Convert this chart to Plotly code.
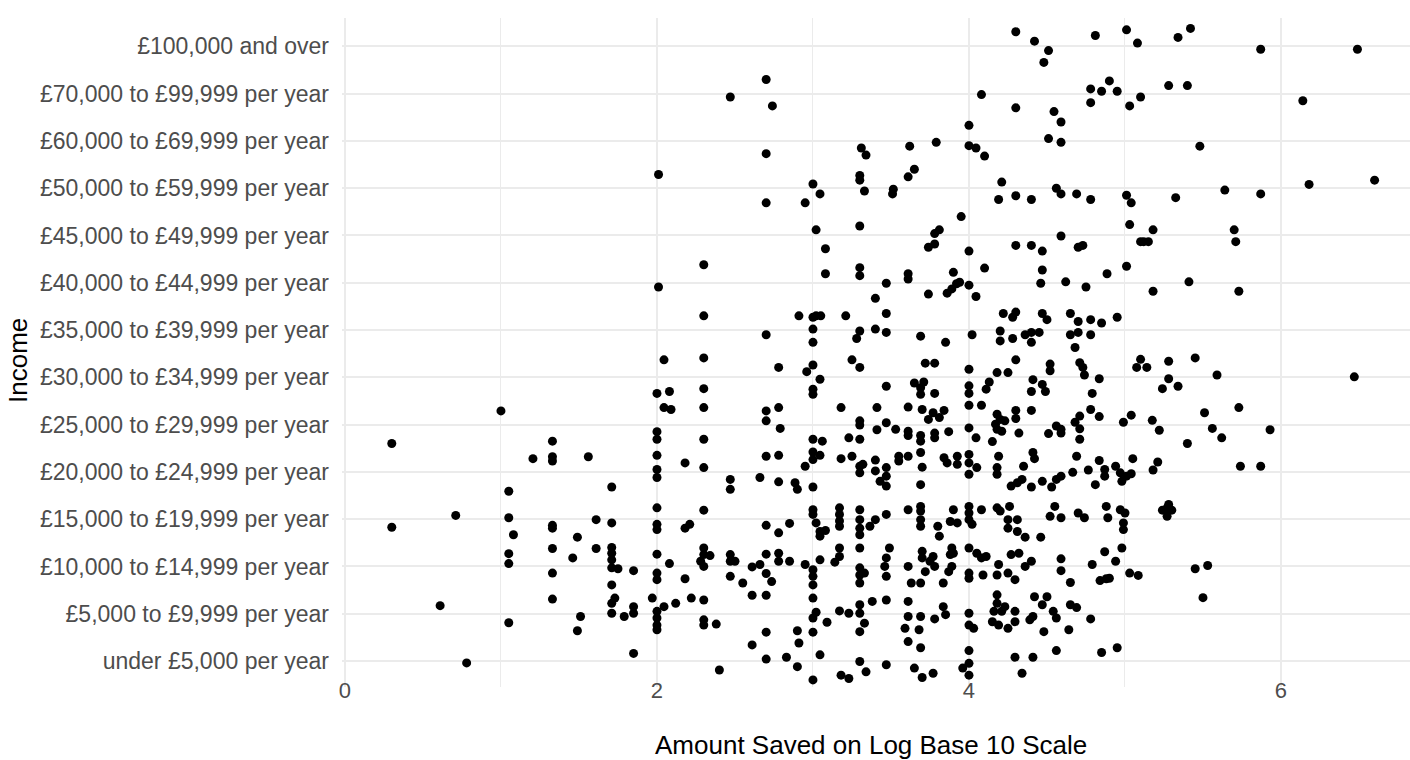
import plotly.graph_objects as go

income_levels = [
    "under £5,000 per year", "£5,000 to £9,999 per year", "£10,000 to £14,999 per year",
    "£15,000 to £19,999 per year", "£20,000 to £24,999 per year", "£25,000 to £29,999 per year",
    "£30,000 to £34,999 per year", "£35,000 to £39,999 per year", "£40,000 to £44,999 per year",
    "£45,000 to £49,999 per year", "£50,000 to £59,999 per year", "£60,000 to £69,999 per year",
    "£70,000 to £99,999 per year", "£100,000 and over",
]
x_ticks = [0, 2, 4, 6]

# log10 of amount saved
amount_log10 = [
    2.70, 2.47, 2.74, 2.70, 3.31, 3.34, 2.01, 3.30, 3.30, 3.00,
    3.045, 3.33, 2.70, 2.95, 3.02, 3.30, 3.08, 2.30, 3.08, 3.30,
    3.30, 2.01, 2.30, 2.91, 3.00, 3.02, 3.05, 3.21, 2.70, 3.00,
    3.00, 3.30, 3.28, 4.30, 4.42, 4.51, 4.48, 4.81, 5.01, 4.78,
    4.85, 4.90, 4.95, 4.78, 5.03, 4.08, 4.30, 4.545, 4.59, 4.00,
    4.51, 4.59, 3.62, 3.79, 4.00, 4.045, 4.10, 3.65, 3.61, 3.515,
    3.51, 4.21, 4.19, 4.30, 4.40, 4.56, 4.59, 4.69, 4.78, 5.01,
    3.95, 3.81, 3.78, 3.78, 3.74, 4.00, 4.30, 4.40, 4.47, 4.59,
    4.70, 4.73, 5.03, 3.61, 3.61, 3.47, 3.40, 3.74, 3.90, 3.86,
    3.89, 3.92, 3.94, 4.00, 4.045, 4.10, 4.47, 4.46, 4.62, 4.75,
    4.885, 5.01, 3.47, 4.22, 4.28, 4.30, 4.47, 4.50, 4.65, 4.70,
    4.78, 4.85, 4.95, 3.40, 3.47, 3.69, 3.85, 4.02, 4.20, 4.20,
    4.28, 4.36, 4.40, 4.40, 4.45, 4.65, 4.70, 4.78, 4.68, 5.08,
    5.34, 5.42, 5.87, 6.49, 5.28, 5.40, 5.10, 6.14, 5.48, 5.04,
    5.325, 5.64, 5.87, 6.18, 6.60, 5.18, 5.70, 5.10, 5.12, 5.15,
    5.71, 5.41, 5.18, 5.73, 1.00, 0.30, 1.33, 1.205, 1.33, 1.33,
    1.56, 1.05, 0.71, 0.30, 1.05, 1.08, 1.33, 1.33, 1.61, 1.49,
    1.33, 1.61, 1.46, 1.05, 1.05, 1.33, 1.33, 0.61, 1.51, 1.49,
    1.05, 0.78, 1.71, 1.71, 1.71, 1.71, 1.71, 1.71, 1.75, 1.85,
    1.71, 1.73, 1.71, 1.71, 1.79, 1.85, 1.85, 1.85, 2.045, 2.30,
    2.78, 3.00, 2.96, 3.045, 3.25, 3.30, 2.00, 2.08, 2.045, 2.09,
    2.30, 2.30, 3.00, 3.00, 3.47, 2.70, 2.70, 2.78, 2.79, 3.18,
    3.41, 3.30, 3.30, 3.41, 3.47, 2.00, 2.00, 2.30, 2.00, 2.18,
    2.00, 2.00, 2.30, 2.47, 2.47, 2.66, 2.78, 2.885, 2.90, 3.00,
    3.06, 2.70, 2.78, 3.00, 3.00, 3.045, 2.95, 3.00, 3.18, 3.25,
    3.23, 3.30, 3.30, 3.30, 3.32, 3.40, 3.40, 3.43, 3.47, 3.47,
    3.47, 2.00, 2.30, 3.00, 3.00, 3.17, 3.17, 3.17, 3.17, 3.30,
    3.30, 3.30, 3.30, 3.40, 3.365, 3.47, 2.00, 2.00, 2.18, 2.21,
    2.70, 2.78, 2.85, 3.02, 3.045, 3.08, 3.045, 2.00, 2.08, 2.30,
    2.30, 2.34, 2.28, 2.30, 2.47, 2.47, 2.50, 2.61, 2.66, 2.70,
    2.78, 2.78, 2.85, 2.95, 3.00, 3.00, 3.00, 3.045, 3.17, 3.17,
    3.14, 3.30, 3.30, 3.30, 3.33, 3.30, 3.47, 3.47, 2.00, 2.00,
    2.18, 2.47, 2.55, 2.70, 2.735, 1.97, 2.045, 2.00, 2.00, 2.00,
    2.00, 2.12, 2.22, 2.30, 2.30, 2.30, 2.38, 2.61, 2.70, 3.00,
    3.02, 3.00, 3.09, 3.17, 3.23, 3.30, 3.30, 3.38, 3.47, 3.33,
    3.30, 2.70, 2.90, 3.00, 2.91, 2.61, 2.70, 2.83, 2.90, 3.045,
    2.40, 3.00, 3.18, 3.23, 3.30, 3.34, 3.47,
    3.72, 3.78, 4.00, 4.30, 4.18, 4.25, 4.52, 4.52, 4.71, 4.73,
    4.74, 3.65, 3.69, 3.71, 3.69, 3.78, 4.00, 4.00, 4.11, 4.13,
    4.41, 4.40, 4.47, 4.49, 4.835, 4.79, 3.61, 3.70, 3.77, 3.74,
    3.81, 3.84, 4.00, 4.08, 4.18, 4.17, 4.20, 4.23, 4.30, 4.30,
    4.18, 4.21, 4.40, 4.78, 4.71, 4.68, 4.71, 4.835, 4.99, 3.53,
    3.61, 3.61, 3.69, 3.69, 3.78, 3.78, 3.87, 4.00, 4.045, 4.15,
    4.32, 4.51, 4.56, 4.59, 4.59, 4.71, 3.55, 3.61, 3.55, 3.69,
    3.70, 3.69, 3.84, 3.86, 3.925, 3.925, 4.00, 4.00, 4.00, 4.05,
    4.19, 4.18, 4.18, 4.35, 4.41, 4.42, 4.27, 4.31, 4.34, 4.40,
    4.47, 4.53, 4.56, 4.59, 4.665, 4.69, 4.765, 4.835, 4.87, 4.87,
    4.81, 4.94, 4.97, 4.98, 5.01, 3.49, 3.46, 3.61, 3.69, 3.69,
    3.69, 3.69, 3.90, 4.00, 4.00, 4.00, 4.02, 4.08, 4.18, 4.20,
    4.26, 4.55, 4.52, 4.59, 4.70, 4.74, 4.88, 4.89, 4.97, 5.00,
    4.99, 4.99, 3.80, 3.81, 3.88, 3.925, 4.25, 4.31, 4.25, 4.31,
    4.36, 4.46, 3.61, 3.70, 3.70, 3.72, 3.77, 3.78, 3.75, 3.89,
    3.88, 3.90, 3.89, 3.87, 3.63, 3.69, 3.835, 4.00, 4.05, 4.08,
    4.11, 4.00, 4.00, 4.09, 4.19, 4.18, 4.25, 4.295, 4.27, 4.32,
    4.40, 4.36, 4.59, 4.59, 4.65, 4.79, 4.87, 4.94, 4.98, 4.84,
    4.88, 4.90, 5.03, 3.61, 3.61, 3.69, 3.78, 3.835, 3.85, 3.59,
    3.68, 3.61, 3.69, 4.00, 4.00, 4.03, 4.18, 4.18, 4.16, 4.21,
    4.23, 4.15, 4.19, 4.25, 4.295, 4.295, 4.42, 4.50, 4.47, 4.41,
    4.39, 4.54, 4.56, 4.48, 4.65, 4.69, 4.64, 4.78, 4.00, 4.00,
    3.96, 4.00, 4.295, 4.41, 4.56, 4.34, 3.65, 3.70, 3.77, 4.85,
    4.95, 5.10, 5.075, 5.14, 5.28, 5.45, 5.28, 5.24, 5.34, 5.59,
    6.47, 5.04, 5.175, 5.22, 5.51, 5.56, 5.62, 5.73, 5.93, 5.40,
    5.05, 5.04, 5.21, 5.18, 5.74, 5.87, 5.24, 5.28, 5.30, 5.27,
    5.27, 5.085, 5.45, 5.53, 5.50,
]

# income level position (1 = lowest band) including the vertical jitter seen in the picture
income_jittered = [
    13.30, 12.93, 12.74, 11.73, 11.85, 11.70, 11.29, 11.27, 11.17, 11.09,
    10.88, 10.94, 10.69, 10.69, 10.12, 10.20, 9.72, 9.38, 9.19, 9.32,
    9.15, 8.91, 8.30, 8.30, 8.27, 8.30, 8.30, 8.30, 7.90, 8.02,
    7.74, 7.98, 7.82, 14.31, 14.11, 13.91, 13.66, 14.23, 14.35, 13.10,
    13.05, 13.27, 13.05, 12.81, 12.74, 12.98, 12.70, 12.62, 12.40, 12.33,
    12.05, 11.97, 11.89, 11.97, 11.90, 11.85, 11.68, 11.40, 11.24, 10.98,
    10.88, 11.13, 10.76, 10.84, 10.76, 11.00, 10.88, 10.88, 10.76, 10.85,
    10.40, 10.12, 10.04, 9.82, 9.75, 9.67, 9.79, 9.79, 9.67, 9.99,
    9.75, 9.79, 10.23, 9.19, 9.08, 8.99, 8.67, 8.76, 9.22, 8.78,
    8.87, 8.98, 9.01, 8.95, 8.71, 9.31, 9.27, 8.99, 9.02, 8.91,
    9.19, 9.35, 8.35, 8.35, 8.27, 8.38, 8.35, 8.22, 8.35, 8.18,
    8.22, 8.15, 8.27, 8.02, 7.95, 7.87, 7.74, 7.90, 7.98, 7.77,
    7.82, 7.90, 7.95, 7.74, 7.95, 7.90, 7.95, 7.90, 7.63, 14.07,
    14.19, 14.38, 13.94, 13.94, 13.17, 13.17, 12.93, 12.85, 11.89, 10.69,
    10.80, 10.96, 10.88, 11.08, 11.17, 10.12, 10.12, 9.87, 9.87, 9.87,
    9.87, 9.02, 8.82, 8.82, 6.29, 5.60, 5.65, 5.28, 5.32, 5.23,
    5.32, 4.59, 4.08, 3.83, 4.03, 3.67, 3.87, 3.81, 3.99, 3.62,
    3.38, 3.38, 3.18, 3.27, 3.06, 2.86, 2.31, 2.17, 1.94, 1.64,
    1.81, 0.96, 4.68, 3.92, 3.40, 3.28, 3.14, 2.97, 2.95, 2.91,
    2.61, 2.33, 2.22, 2.01, 1.94, 2.15, 2.01, 1.16, 7.37, 7.41,
    7.21, 7.26, 7.12, 6.96, 7.37, 7.21, 6.66, 6.70, 6.36, 6.32,
    6.76, 6.36, 6.75, 6.64, 6.81, 6.29, 6.08, 6.36, 5.92, 6.36,
    6.36, 6.08, 5.99, 5.89, 6.04, 5.85, 5.69, 5.69, 5.35, 5.19,
    5.05, 4.88, 5.09, 4.84, 4.63, 4.88, 4.79, 4.77, 4.63, 5.69,
    5.65, 5.33, 5.35, 5.42, 5.26, 5.35, 5.12, 4.68, 5.28, 5.33,
    5.72, 5.69, 5.12, 4.98, 5.16, 5.25, 5.02, 4.80, 5.09, 4.91,
    4.70, 4.24, 4.19, 4.20, 4.10, 4.24, 4.10, 3.96, 3.85, 4.20,
    3.99, 3.81, 3.67, 3.99, 3.85, 4.10, 3.89, 3.78, 3.81, 3.89,
    3.87, 3.71, 3.91, 3.92, 3.74, 3.76, 3.64, 3.26, 3.06, 3.39,
    3.25, 3.23, 3.11, 3.00, 3.25, 3.11, 3.11, 2.99, 3.04, 3.26,
    3.28, 3.11, 3.11, 3.04, 2.93, 2.79, 2.61, 3.14, 3.39, 3.21,
    3.09, 3.39, 2.97, 2.82, 2.86, 2.65, 3.18, 2.79, 2.86, 2.72,
    2.74, 2.79, 2.65, 2.85, 2.68, 2.33, 2.15, 2.05, 1.91, 1.76,
    1.66, 2.22, 2.33, 2.29, 1.87, 1.76, 1.78, 2.39, 2.39, 2.33,
    2.03, 1.91, 1.82, 2.06, 2.01, 2.19, 2.01, 2.26, 2.29, 1.80,
    1.62, 1.61, 1.64, 1.61, 1.38, 1.34, 1.04, 1.08, 0.88, 1.13,
    0.81, 0.60, 0.70, 0.63, 0.99, 0.77, 0.92,
    7.30, 7.30, 7.17, 7.37, 7.10, 7.10, 7.28, 7.14, 7.31, 7.21,
    7.05, 6.88, 6.78, 6.90, 6.64, 6.66, 6.82, 6.66, 6.75, 6.90,
    6.95, 6.70, 6.85, 6.70, 6.97, 6.66, 6.37, 6.32, 6.25, 6.11,
    6.15, 6.30, 6.41, 6.41, 6.22, 6.01, 6.11, 6.08, 6.30, 6.13,
    5.90, 5.86, 6.30, 6.32, 6.18, 6.05, 5.91, 6.17, 6.05, 5.90,
    5.86, 5.77, 5.77, 5.65, 5.82, 5.72, 5.85, 5.93, 5.72, 5.64,
    5.82, 5.81, 5.97, 5.90, 5.82, 5.69, 5.33, 5.33, 5.23, 5.41,
    5.10, 4.73, 5.30, 5.19, 5.33, 5.16, 5.37, 5.19, 4.95, 5.09,
    5.33, 5.09, 4.95, 5.12, 5.41, 5.28, 4.70, 4.77, 4.84, 4.68,
    4.80, 4.68, 4.84, 4.91, 4.99, 5.33, 5.04, 5.24, 5.05, 4.91,
    4.73, 5.12, 4.98, 4.80, 4.91, 3.39, 3.00, 4.20, 4.27, 4.17,
    3.99, 3.85, 4.20, 4.27, 4.13, 3.99, 3.89, 4.20, 4.24, 4.17,
    4.27, 4.27, 4.06, 4.03, 4.13, 4.03, 4.27, 4.03, 4.20, 4.13,
    3.92, 3.78, 3.85, 3.64, 3.95, 3.92, 3.99, 3.99, 3.81, 3.74,
    3.62, 3.62, 3.00, 3.32, 3.18, 2.89, 3.21, 3.00, 3.11, 3.39,
    3.25, 3.28, 3.00, 2.89, 2.65, 2.65, 2.65, 3.39, 3.28, 3.18,
    3.21, 2.86, 2.75, 2.82, 3.04, 2.82, 2.86, 2.72, 3.25, 3.28,
    3.11, 3.00, 3.16, 2.91, 2.66, 3.04, 3.31, 3.11, 3.39, 2.70,
    2.74, 2.75, 2.86, 2.26, 1.94, 1.94, 1.89, 2.15, 1.98, 1.69,
    1.66, 1.41, 1.28, 2.01, 1.76, 1.69, 2.40, 2.22, 2.05, 2.05,
    2.15, 1.83, 1.76, 1.69, 2.05, 1.83, 2.36, 2.36, 2.19, 1.94,
    1.87, 2.05, 1.91, 1.62, 2.19, 2.13, 1.66, 1.89, 1.22, 0.95,
    0.85, 0.70, 1.08, 1.08, 1.22, 0.74, 0.85, 0.65, 0.74, 1.18,
    1.28, 7.38, 7.21, 7.21, 7.34, 7.41, 6.97, 6.76, 6.81, 7.05,
    7.01, 6.20, 6.09, 5.88, 6.25, 5.92, 5.72, 6.36, 5.89, 5.60,
    5.28, 4.96, 5.21, 5.04, 5.12, 5.12, 4.19, 4.31, 4.19, 4.06,
    4.24, 2.81, 2.95, 3.02, 2.34,
]

n = min(len(amount_log10), len(income_jittered))

fig = go.Figure()
fig.add_trace(go.Scatter(
    x=amount_log10[:n], y=income_jittered[:n], mode="markers",
    marker=dict(color="black", size=9, line=dict(width=0)),
    hoverinfo="x+y",
))

FONT = "Liberation Sans, Arial, sans-serif"
GRID = "#EBEBEB"

fig.update_layout(
    width=1410, height=760,
    margin=dict(l=342, r=0, t=18, b=73),
    plot_bgcolor="white", paper_bgcolor="white",
    showlegend=False,
    font=dict(family=FONT, color="#4D4D4D"),
    xaxis=dict(
        range=[-0.019, 6.827],
        tickvals=x_ticks, ticktext=[str(v) for v in x_ticks],
        showgrid=True, gridcolor=GRID, gridwidth=1.6,
        minor=dict(tickvals=[1, 3, 5], showgrid=True, gridcolor=GRID, gridwidth=0.8),
        zeroline=False, showline=False, ticks="",
        ticklabelstandoff=-12,
        tickfont=dict(size=22, color="#4D4D4D", family=FONT),
    ),
    yaxis=dict(
        range=[0.45, 14.6],
        tickvals=list(range(1, len(income_levels) + 1)), ticktext=income_levels,
        showgrid=True, gridcolor=GRID, gridwidth=1.6,
        zeroline=False, showline=False, ticks="",
        ticklabelstandoff=12,
        tickfont=dict(size=23, color="#4D4D4D", family=FONT),
    ),
    annotations=[
        dict(text="Amount Saved on Log Base 10 Scale", xref="paper", yref="paper",
             x=(871 - 342) / 1068, y=-(745 - 687) / 669, xanchor="center", yanchor="middle",
             showarrow=False, font=dict(size=26, color="black", family=FONT)),
        dict(text="Income", xref="paper", yref="paper",
             x=-(342 - 18) / 1068, y=(687 - 361) / 669, xanchor="center", yanchor="middle",
             textangle=-90, showarrow=False, font=dict(size=26, color="black", family=FONT)),
    ],
)

fig.write_html("out.html")
